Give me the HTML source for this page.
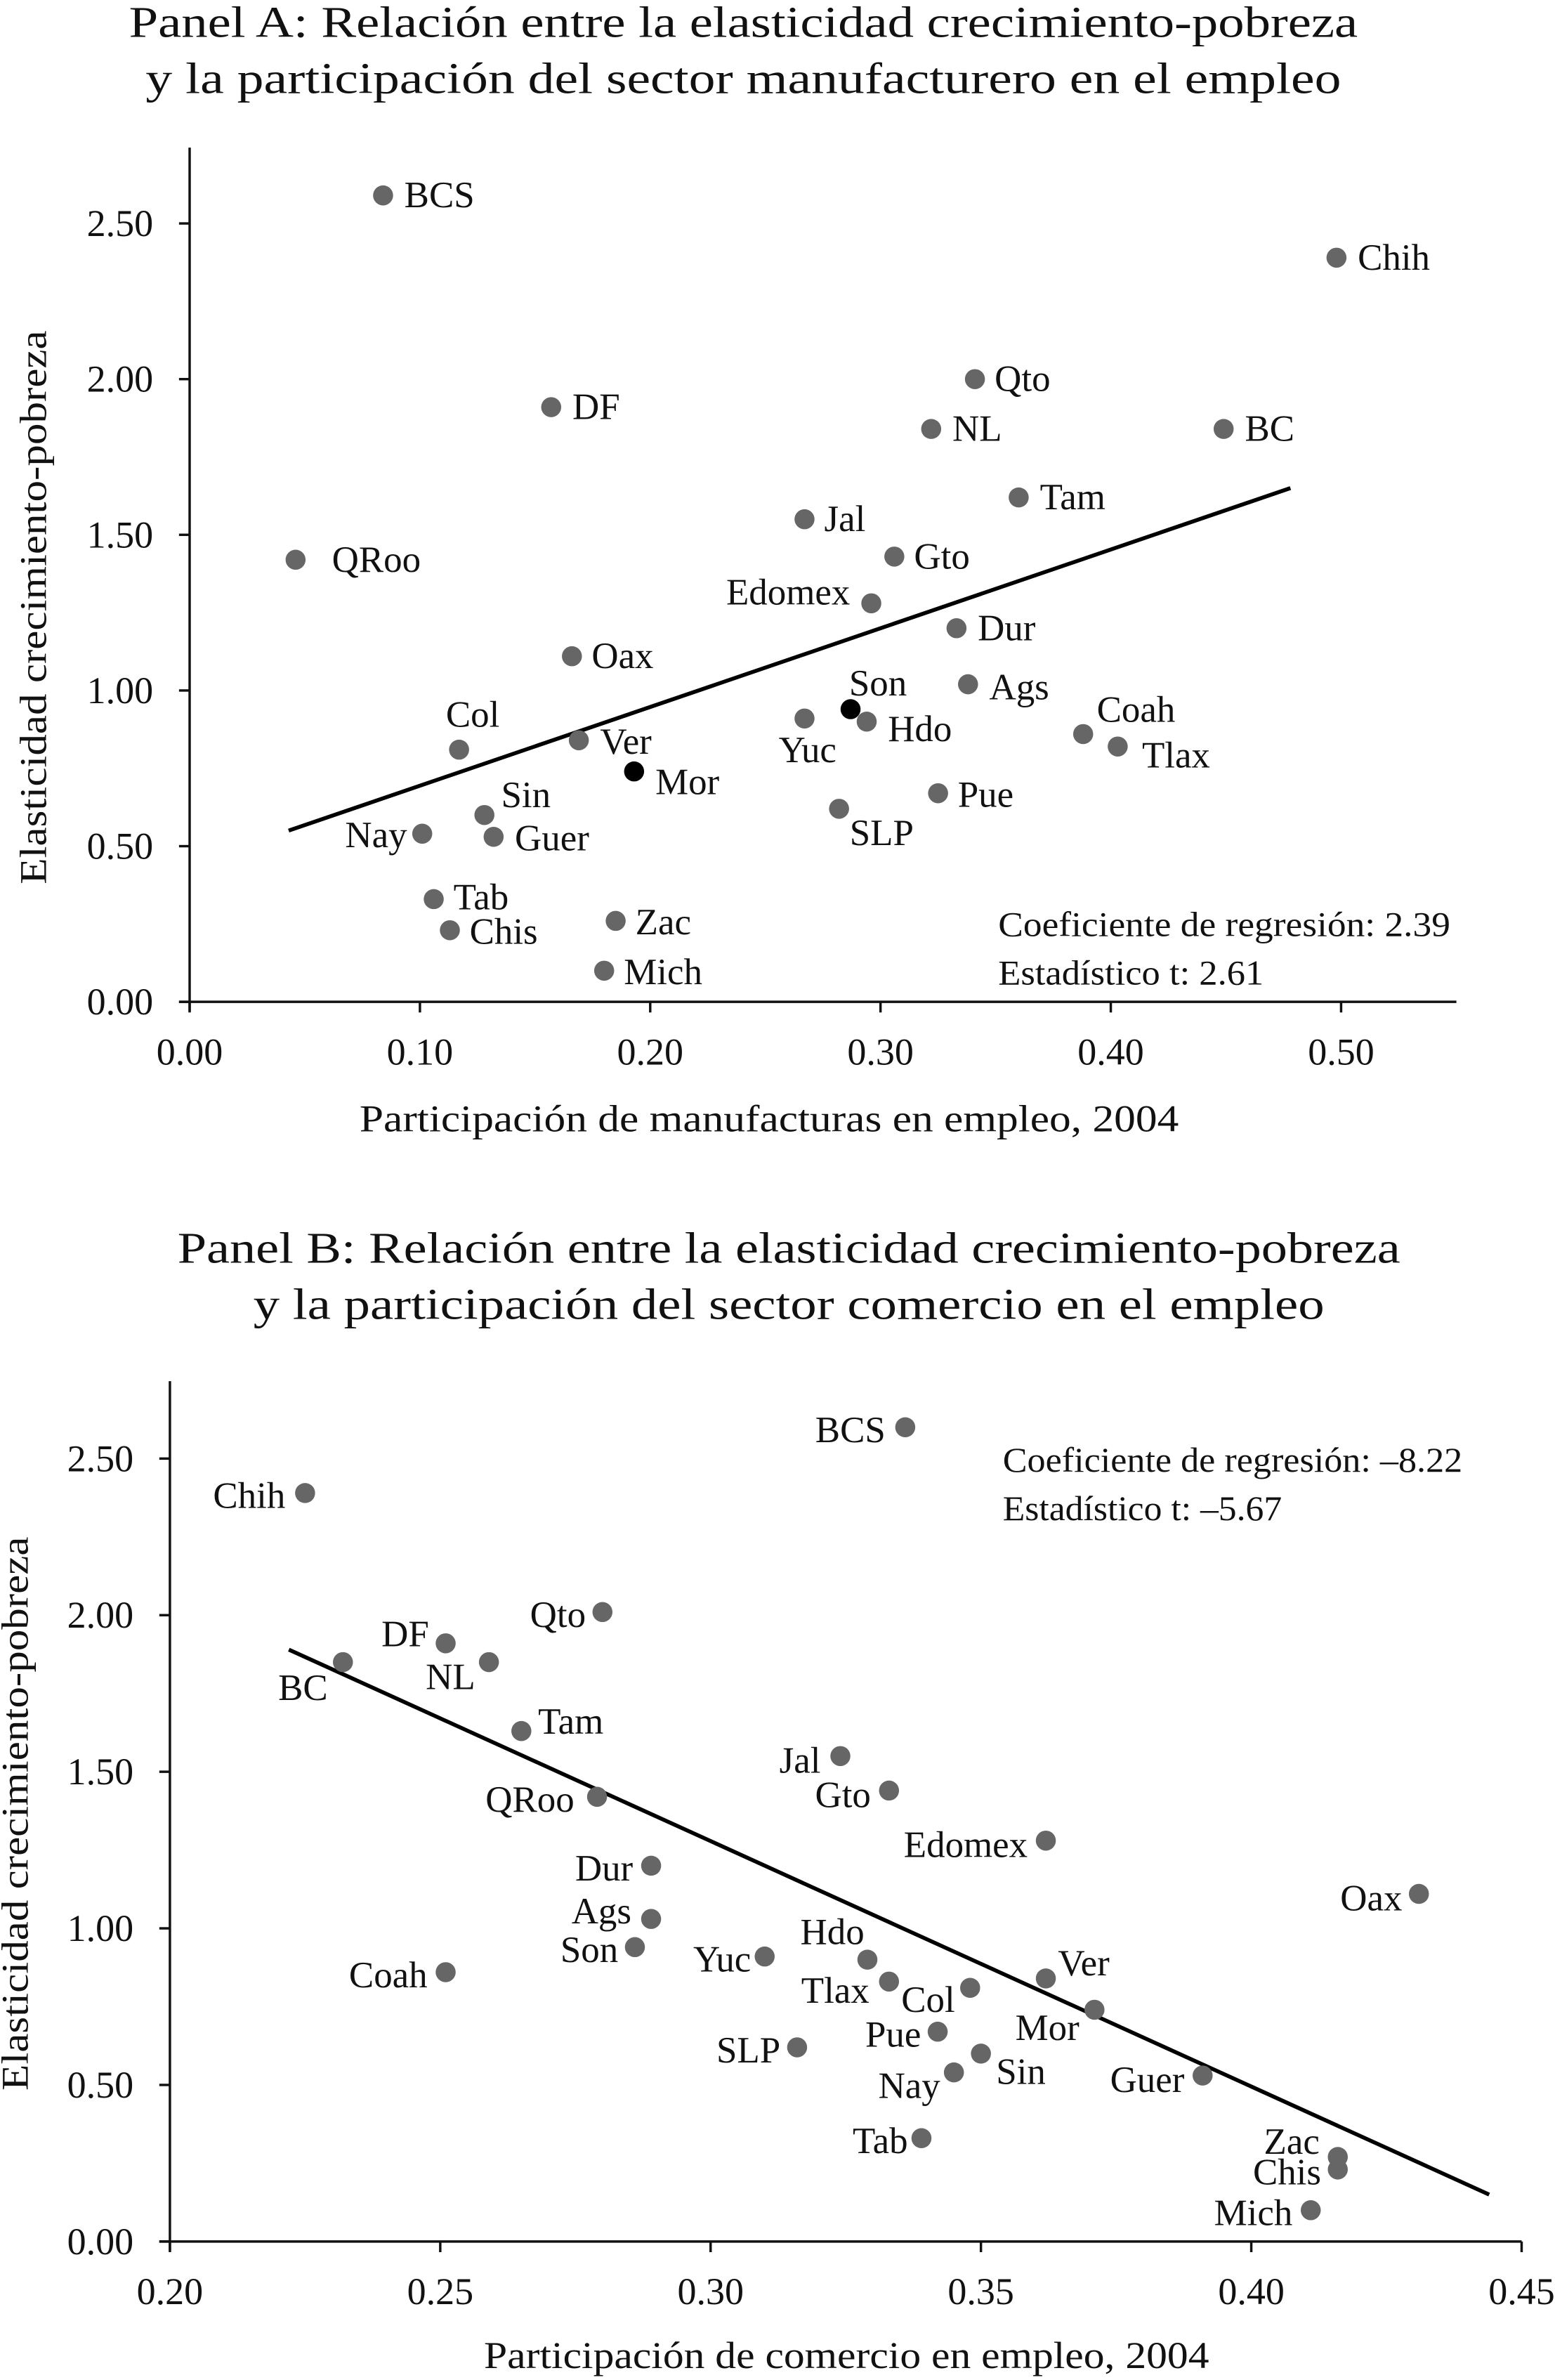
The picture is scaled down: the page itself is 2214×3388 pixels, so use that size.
<!DOCTYPE html>
<html><head><meta charset="utf-8"><style>
html,body{margin:0;padding:0;background:#fff}
svg{display:block}
text{font-family:"Liberation Serif",serif;fill:#111}
</style></head><body>
<svg id="s" width="2214" height="3388" viewBox="0 0 1025 1568" xmlns="http://www.w3.org/2000/svg">
<rect width="1025" height="1568" fill="#fff"/>
<g id="pa"></g>
<g id="pb"></g>
</svg>
<script>
// Panel A data
const statesA = ["BCS","Chih","Qto","DF","NL","BC","Tam","Jal","QRoo","Gto","Edomex","Dur","Oax","Ags","Son","Yuc","Hdo","Coah","Tlax","Col","Ver","Mor","Pue","SLP","Sin","Nay","Guer","Tab","Chis","Zac","Mich"];
const manufA = [0.084,0.498,0.341,0.157,0.322,0.449,0.360,0.267,0.046,0.306,0.296,0.333,0.166,0.338,0.287,0.267,0.294,0.388,0.403,0.117,0.169,0.193,0.325,0.282,0.128,0.101,0.132,0.106,0.113,0.185,0.180];
const elastA = [2.59,2.39,2.00,1.91,1.84,1.84,1.62,1.55,1.42,1.43,1.28,1.20,1.11,1.02,0.94,0.91,0.90,0.86,0.82,0.81,0.84,0.74,0.67,0.62,0.60,0.54,0.53,0.33,0.23,0.26,0.10];
const highlightA = ["Son","Mor"];
const fitA = [[0.043,0.55],[0.478,1.65]];
const xTicksA = ["0.00","0.10","0.20","0.30","0.40","0.50"];
const yTicksA = ["0.00","0.50","1.00","1.50","2.00","2.50"];
// Panel B data
const statesB = ["BCS","Chih","Qto","DF","BC","NL","Tam","Jal","Gto","QRoo","Edomex","Dur","Oax","Ags","Son","Yuc","Hdo","Coah","Ver","Tlax","Col","Mor","Pue","SLP","Sin","Nay","Guer","Tab","Zac","Chis","Mich"];
const comB = [0.336,0.225,0.280,0.251,0.232,0.259,0.265,0.324,0.333,0.279,0.362,0.289,0.431,0.289,0.286,0.310,0.329,0.251,0.362,0.333,0.348,0.371,0.342,0.316,0.350,0.345,0.391,0.339,0.416,0.416,0.411];
const elastB = [2.60,2.39,2.01,1.91,1.85,1.85,1.63,1.55,1.44,1.42,1.28,1.20,1.11,1.03,0.94,0.91,0.90,0.86,0.84,0.83,0.81,0.74,0.67,0.62,0.60,0.54,0.53,0.33,0.27,0.23,0.10];
const fitB = [[0.222,1.89],[0.444,0.15]];
const xTicksB = ["0.20","0.25","0.30","0.35","0.40","0.45"];
const yTicksB = ["0.00","0.50","1.00","1.50","2.00","2.50"];

// label placement (styling): [dx, dy, anchor]
const labA = {BCS:[14,0,"start"],Chih:[14,0,"start"],Qto:[13,0,"start"],DF:[14,0,"start"],NL:[14,0,"start"],BC:[14,0,"start"],Tam:[14,0,"start"],Jal:[13,0,"start"],QRoo:[24,0,"start"],Gto:[13,0,"start"],Edomex:[-14,-7,"end"],Dur:[14,0,"start"],Oax:[13,0,"start"],Ags:[14,2,"start"],Son:[-1,-17,"start"],Yuc:[2,21,"middle"],Hdo:[14,5,"start"],Coah:[9,-16,"start"],Tlax:[16,6,"start"],Col:[9,-23,"middle"],Ver:[14,1,"start"],Mor:[14,7,"start"],Pue:[13,1,"start"],SLP:[7,16,"start"],Sin:[11,-13,"start"],Nay:[-10,1,"end"],Guer:[14,1,"start"],Tab:[13,-1,"start"],Chis:[13,1,"start"],Zac:[13,1,"start"],Mich:[13,1,"start"]};
const labB = {BCS:[-13,2,"end"],Chih:[-13,2,"end"],Qto:[-11,2,"end"],DF:[-11,-6,"end"],BC:[-10,17,"end"],NL:[-9,10,"end"],Tam:[11,-6,"start"],Jal:[-13,3,"end"],Gto:[-12,3,"end"],QRoo:[-15,2,"end"],Edomex:[-12,3,"end"],Dur:[-12,2,"end"],Oax:[-11,3,"end"],Ags:[-13,-5,"end"],Son:[-11,2,"end"],Yuc:[-9,2,"end"],Hdo:[-2,-18,"end"],Coah:[-12,2,"end"],Ver:[8,-10,"start"],Tlax:[-13,6,"end"],Col:[-10,8,"end"],Mor:[-10,12,"end"],Pue:[-11,2,"end"],SLP:[-11,2,"end"],Sin:[10,12,"start"],Nay:[-9,9,"end"],Guer:[-12,3,"end"],Tab:[-9,2,"end"],Zac:[-12,-10,"end"],Chis:[-11,2,"end"],Mich:[-12,2,"end"]};

const NS="http://www.w3.org/2000/svg";
function mk(parent,tag,attrs,txt){const e=document.createElementNS(NS,tag);for(const k in attrs)e.setAttribute(k,attrs[k]);if(txt!==undefined)e.textContent=txt;parent.appendChild(e);return e;}

function panel(g,cfg){
  const xs=v=>cfg.x0px+(v-cfg.xmin)/(cfg.xmax-cfg.xmin)*(cfg.x1px-cfg.x0px);
  const ys=v=>cfg.y0px-(v/2.5)*(cfg.y0px-cfg.y1px);
  cfg.title.forEach((t,i)=>{const e=mk(g,"text",{x:cfg.tx,y:cfg.ty+i*37,"text-anchor":"middle","font-size":29,textLength:cfg.tlen[i],lengthAdjust:"spacingAndGlyphs"},t);
    
    });
  const ax=mk(g,"line",{x1:cfg.x0px,y1:cfg.axTop,x2:cfg.x0px,y2:cfg.y0px+6,stroke:"#111","stroke-width":1.6});
  
  
  const bx=mk(g,"line",{x1:cfg.x0px-7,y1:cfg.y0px,x2:cfg.axRight,y2:cfg.y0px,stroke:"#111","stroke-width":1.6});
  
  
  cfg.xt.forEach(t=>{const v=parseFloat(t),px=xs(v);
    const l=mk(g,"line",{x1:px,y1:cfg.y0px,x2:px,y2:cfg.y0px+7,stroke:"#111","stroke-width":1.6});
    
    
    const e=mk(g,"text",{x:px,y:cfg.y0px+33,"text-anchor":"middle","dominant-baseline":"central","font-size":25},t);
    
    });
  cfg.yt.forEach(t=>{const v=parseFloat(t),py=ys(v);
    const l=mk(g,"line",{x1:cfg.x0px-7,y1:py,x2:cfg.x0px,y2:py,stroke:"#111","stroke-width":1.6});
    
    
    const e=mk(g,"text",{x:cfg.x0px-24,y:py,"text-anchor":"end","dominant-baseline":"central","font-size":25},t);
    
    });
  const yt=mk(g,"text",{x:0,y:0,transform:`translate(${cfg.ytx},${cfg.yty}) rotate(-90)`,"text-anchor":"middle","dominant-baseline":"central","font-size":25,textLength:365,lengthAdjust:"spacingAndGlyphs"},"Elasticidad crecimiento-pobreza");
  
  
  const xt=mk(g,"text",{x:cfg.xtx,y:cfg.xty,"text-anchor":"middle","dominant-baseline":"central","font-size":25,textLength:cfg.xlen,lengthAdjust:"spacingAndGlyphs"},cfg.xlabel);
  
  
  const fl=mk(g,"line",{x1:xs(cfg.fit[0][0]),y1:ys(cfg.fit[0][1]),x2:xs(cfg.fit[1][0]),y2:ys(cfg.fit[1][1]),stroke:"#000","stroke-width":2.6});
  
  
  cfg.states.forEach((s,i)=>{const px=xs(cfg.xv[i]),py=ys(cfg.yv[i]);
    const c=mk(g,"circle",{cx:px,cy:py,r:6.6,fill:cfg.hl.includes(s)?"#000":"#666"});
    
    
    const o=cfg.lab[s]||[12,0,"start"];
    const e=mk(g,"text",{x:px+o[0],y:py+o[1],"text-anchor":o[2],"dominant-baseline":"central","font-size":24.5},s);
    
    });
  cfg.stats.forEach((t,i)=>{const e=mk(g,"text",{x:cfg.sx,y:cfg.sy+i*32,"dominant-baseline":"central","font-size":23,textLength:cfg.slen[i],lengthAdjust:"spacingAndGlyphs"},t);
    
    });
}
panel(document.getElementById("pa"),{x0px:125,x1px:884,xmin:0,xmax:0.5,y0px:660,y1px:147,axTop:97,axRight:960,
  xt:xTicksA,yt:yTicksA,states:statesA,xv:manufA,yv:elastA,hl:highlightA,fit:fitA,lab:labA,
  title:["Panel A: Relación entre la elasticidad crecimiento-pobreza","y la participación del sector manufacturero en el empleo"],tlen:[810,788],tx:490,ty:24,
  ytx:22,yty:400,xtx:507,xty:737,xlen:540,xlabel:"Participación de manufacturas en empleo, 2004",
  stats:["Coeficiente de regresión: 2.39","Estadístico t: 2.61"],slen:[298,175],sx:658,sy:609});
panel(document.getElementById("pb"),{x0px:112,x1px:1003,xmin:0.2,xmax:0.45,y0px:1477,y1px:961,axTop:910,axRight:1003,
  xt:xTicksB,yt:yTicksB,states:statesB,xv:comB,yv:elastB,hl:[],fit:fitB,lab:labB,
  title:["Panel B: Relación entre la elasticidad crecimiento-pobreza","y la participación del sector comercio en el empleo"],tlen:[806,706],tx:520,ty:832,
  ytx:10,yty:1195,xtx:558,xty:1552,xlen:478,xlabel:"Participación de comercio en empleo, 2004",
  stats:["Coeficiente de regresión: –8.22","Estadístico t: –5.67"],slen:[303,184],sx:661,sy:962});
</script>
</body></html>
